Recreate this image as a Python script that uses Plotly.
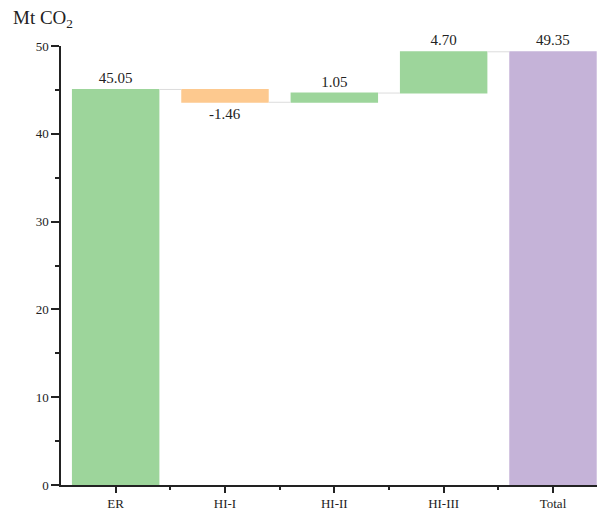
import plotly.graph_objects as go

categories = ["ER", "HI-I", "HI-II", "HI-III", "Total"]
values = [45.05, -1.46, 1.05, 4.70, 49.35]
measures = ["relative", "relative", "relative", "relative", "total"]
labels = ["45.05", "-1.46", "1.05", "4.70", "49.35"]

font_family = "Liberation Serif, Times New Roman, serif"
positions = list(range(len(categories)))

fig = go.Figure(go.Waterfall(
    x=positions,
    y=[v if m != "total" else 0 for v, m in zip(values, measures)],
    measure=measures,
    text=labels,
    textposition="outside",
    textfont=dict(family=font_family, size=15, color="#222"),
    width=0.8,
    increasing=dict(marker=dict(color="#9dd59b")),
    decreasing=dict(marker=dict(color="#fdc98f")),
    totals=dict(marker=dict(color="#c5b3d8")),
    connector=dict(line=dict(color="#dcdcdc", width=1)),
    cliponaxis=False,
    hoverinfo="skip",
))

fig.update_layout(
    width=605, height=513,
    margin=dict(l=53, r=13, t=38, b=36, autoexpand=False),
    paper_bgcolor="white", plot_bgcolor="white",
    showlegend=False,
    font=dict(family=font_family, size=13, color="#222"),
    xaxis=dict(
        range=[-0.5, 4.43],
        tickmode="array", tickvals=positions, ticktext=categories,
        showline=True, linecolor="#222", linewidth=1.5,
        ticks="outside", ticklen=6, tickwidth=1.5, tickcolor="#222",
        minor=dict(tickmode="array", tickvals=[0.5, 1.5, 2.5, 3.5],
                   ticks="outside", ticklen=3, tickwidth=1.5, tickcolor="#222",
                   showgrid=False),
        showgrid=False, zeroline=False, automargin=False,
        tickfont=dict(family=font_family, size=13, color="#222"),
    ),
    yaxis=dict(
        range=[0, 50],
        tickvals=[0, 10, 20, 30, 40, 50],
        showline=True, linecolor="#222", linewidth=1.5,
        ticks="outside", ticklen=8, tickwidth=1.5, tickcolor="#222",
        minor=dict(tickvals=[5, 15, 25, 35, 45], ticks="outside", ticklen=4,
                   tickwidth=1.5, tickcolor="#222", showgrid=False),
        showgrid=False, zeroline=False, automargin=False,
        tickfont=dict(family=font_family, size=13, color="#222"),
    ),
    annotations=[dict(
        text="Mt CO<sub>2</sub>", xref="paper", yref="paper",
        x=-0.093, y=1.062, xanchor="left", yanchor="middle",
        showarrow=False, font=dict(family=font_family, size=19, color="#222"),
    )],
)

fig.write_html("out.html")
